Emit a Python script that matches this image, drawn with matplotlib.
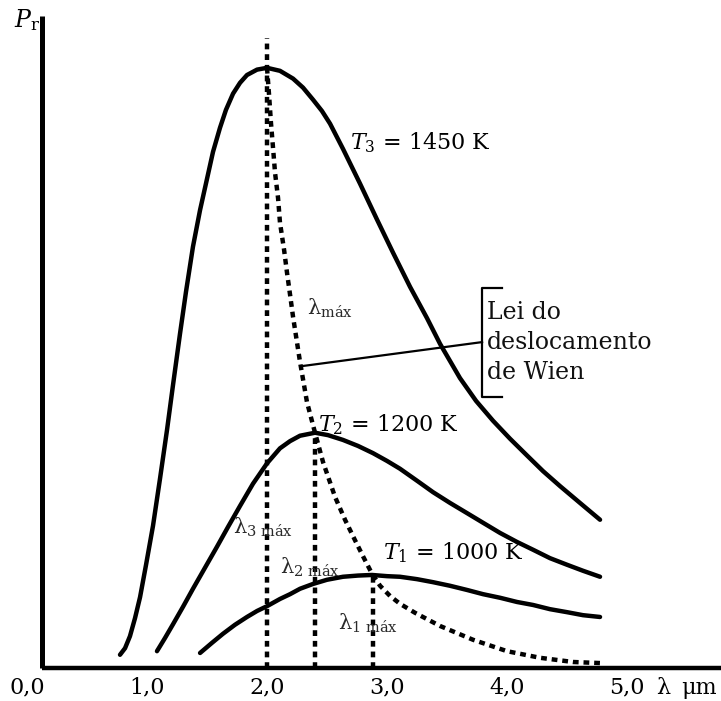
import numpy as np
import matplotlib
matplotlib.use('Agg')
import matplotlib.pyplot as plt

plt.rcParams['font.family'] = ['DejaVu Serif']
plt.rcParams['mathtext.fontset'] = 'dejavuserif'

# curves: wavelength (um) and relative radiated power
lam_t3 = [0.775, 0.817, 0.858, 0.900, 0.942, 0.992, 1.050, 1.108, 1.167, 1.217, 1.275,
          1.325, 1.383, 1.442, 1.500, 1.550, 1.608, 1.658, 1.717, 1.775, 1.833, 1.917,
          2.000, 2.108, 2.217, 2.300, 2.383, 2.458, 2.525, 2.633, 2.775, 2.917, 3.050,
          3.192, 3.333, 3.442, 3.608, 3.742, 3.883, 4.025, 4.167, 4.300, 4.442, 4.608,
          4.775]
pr_t3 = [0.022, 0.033, 0.053, 0.083, 0.118, 0.172, 0.237, 0.315, 0.397, 0.472, 0.557,
         0.627, 0.702, 0.763, 0.815, 0.860, 0.900, 0.930, 0.957, 0.975, 0.988, 0.997,
         1.000, 0.995, 0.982, 0.967, 0.947, 0.928, 0.907, 0.865, 0.807, 0.747, 0.692,
         0.635, 0.583, 0.540, 0.483, 0.445, 0.412, 0.382, 0.354, 0.328, 0.303, 0.275,
         0.247]

lam_t2 = [1.083, 1.150, 1.217, 1.300, 1.383, 1.483, 1.583, 1.675, 1.775, 1.883, 2.000,
          2.108, 2.192, 2.275, 2.400, 2.508, 2.633, 2.758, 2.883, 3.000, 3.108, 3.250,
          3.383, 3.525, 3.667, 3.800, 3.942, 4.083, 4.217, 4.358, 4.500, 4.633, 4.775]
pr_t2 = [0.028, 0.050, 0.073, 0.102, 0.132, 0.167, 0.202, 0.235, 0.270, 0.307, 0.341,
         0.366, 0.378, 0.387, 0.392, 0.388, 0.380, 0.370, 0.358, 0.345, 0.332, 0.312,
         0.293, 0.275, 0.258, 0.242, 0.225, 0.210, 0.197, 0.183, 0.172, 0.162, 0.152]

lam_t1 = [1.442, 1.542, 1.633, 1.733, 1.833, 1.917, 2.000, 2.108, 2.192, 2.275, 2.383,
          2.500, 2.633, 2.758, 2.875, 3.000, 3.108, 3.250, 3.383, 3.525, 3.667, 3.800,
          3.942, 4.083, 4.217, 4.358, 4.500, 4.633, 4.775]
pr_t1 = [0.025, 0.042, 0.057, 0.072, 0.085, 0.095, 0.103, 0.115, 0.123, 0.132, 0.140,
         0.147, 0.152, 0.154, 0.155, 0.153, 0.152, 0.148, 0.143, 0.137, 0.130, 0.123,
         0.117, 0.110, 0.105, 0.098, 0.093, 0.088, 0.085]

# Wien displacement curve through the maxima
lam_wien = [2.000, 2.017, 2.033, 2.050, 2.067, 2.092, 2.108, 2.142, 2.167, 2.192, 2.217,
            2.275, 2.333, 2.400, 2.467, 2.567, 2.650, 2.733, 2.808, 2.875, 2.942, 3.025,
            3.108, 3.233, 3.442, 3.717, 4.000, 4.275, 4.550, 4.800]
pr_wien = [1.000, 0.955, 0.908, 0.867, 0.825, 0.783, 0.742, 0.697, 0.658, 0.622, 0.585,
           0.510, 0.443, 0.392, 0.343, 0.285, 0.247, 0.213, 0.183, 0.157, 0.137, 0.120,
           0.107, 0.092, 0.070, 0.047, 0.028, 0.017, 0.010, 0.008]

lam_max = [2.0, 2.4, 2.88]
pr_max_top = [1.05, 0.392, 0.155]

temps = ['$T_3$ = 1450 K', '$T_2$ = 1200 K', '$T_1$ = 1000 K']
tick_vals = [0, 1, 2, 3, 4, 5]
tick_labels = ['0,0', '1,0', '2,0', '3,0', '4,0', '5,0']

fig = plt.figure(figsize=(7.21, 7.01), dpi=100)
ax = fig.add_axes([0, 0, 1, 1])
ax.set_xlim(-0.225, 5.783)
ax.set_ylim(-0.055, 1.113)
ax.axis('off')

# axes drawn by hand
ax.plot([0.125, 5.783], [0, 0], color='black', lw=3.2, solid_capstyle='butt')
ax.plot([0.125, 0.125], [0, 1.087], color='black', lw=3.6, solid_capstyle='butt')

dot = (0, (1.3, 1.1))
for lx, top in zip(lam_max, pr_max_top):
    ax.plot([lx, lx], [0, top], color='black', lw=3.2, linestyle=dot)
ax.plot(lam_wien, pr_wien, color='black', lw=3.2, linestyle=dot)

for lx, py in [(lam_t3, pr_t3), (lam_t2, pr_t2), (lam_t1, pr_t1)]:
    ax.plot(lx, py, color='black', lw=3.2, solid_capstyle='round', solid_joinstyle='round')

# temperature labels
ax.text(2.69, 0.875, temps[0], fontsize=16, va='center', ha='left')
ax.text(2.425, 0.405, temps[1], fontsize=16, va='center', ha='left')
ax.text(2.967, 0.192, temps[2], fontsize=16, va='center', ha='left')

# lambda labels
lam_col = '#2a2a2a'
ax.text(2.333, 0.6, 'λ$_{\\mathrm{máx}}$', fontsize=15, va='center', ha='left', color=lam_col)
ax.text(1.717, 0.235, 'λ$_{\\mathrm{3\\ máx}}$', fontsize=15, va='center', ha='left', color=lam_col)
ax.text(2.108, 0.168, 'λ$_{\\mathrm{2\\ máx}}$', fontsize=15, va='center', ha='left', color=lam_col)
ax.text(2.592, 0.075, 'λ$_{\\mathrm{1\\ máx}}$', fontsize=15, va='center', ha='left', color=lam_col)

# Wien law leader and bracket
ax.plot([2.292, 3.792], [0.503, 0.543], color='black', lw=1.6)
ax.plot([3.958, 3.792, 3.792, 3.958], [0.633, 0.633, 0.452, 0.452], color='black', lw=1.6)
ax.text(3.833, 0.542, 'Lei do\ndeslocamento\nde Wien', fontsize=17, va='center', ha='left',
        linespacing=1.4, color='#111111')

# axis labels
for v, s in zip(tick_vals, tick_labels):
    ax.text(v, -0.033, s, fontsize=16, ha='center', va='center')
ax.text(5.3, -0.033, 'λ', fontsize=16, ha='center', va='center')
ax.text(5.6, -0.033, 'μm', fontsize=16, ha='center', va='center')
ax.text(0.0, 1.08, '$P_{\\mathrm{r}}$', fontsize=17, ha='center', va='center')

fig.savefig('out.png', dpi=100)
